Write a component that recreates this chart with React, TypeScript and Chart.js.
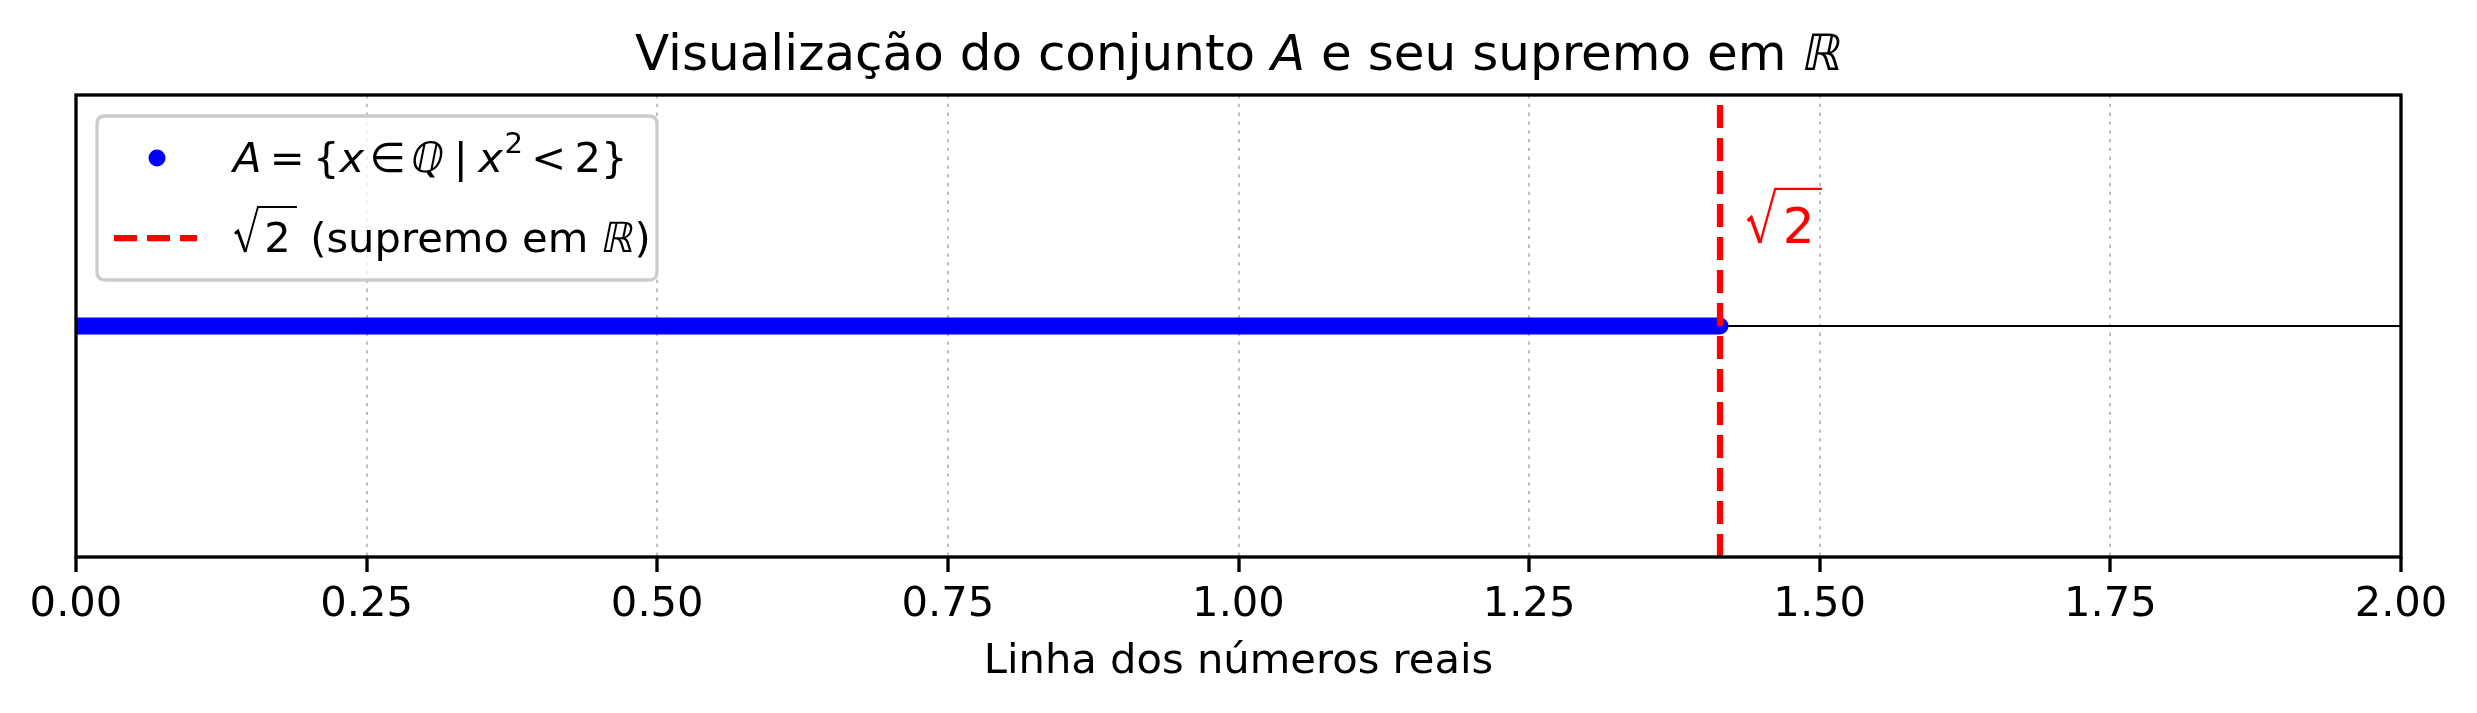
import React, { useEffect, useRef } from "react";
import { Chart, registerables } from "chart.js";

Chart.register(...registerables);

// ---- data ----
const X_MIN = 0;
const X_MAX = 2;
const Y_MIN = -1;
const Y_MAX = 1;
const X_TICKS = [0, 0.25, 0.5, 0.75, 1.0, 1.25, 1.5, 1.75, 2.0];
const X_TICK_LABELS = ["0.00", "0.25", "0.50", "0.75", "1.00", "1.25", "1.50", "1.75", "2.00"];
const SQRT2 = 1.41421356;
// set A drawn along the number line: from 0 up to sqrt(2)
const SET_A_X = [0, SQRT2];
const SET_A_Y = [0, 0];
// supremum vertical line
const SUP_X = [SQRT2, SQRT2];
const SUP_Y = [Y_MIN, Y_MAX];
// number line (horizontal axis line)
const AXIS_LINE_X = [X_MIN, X_MAX];
const AXIS_LINE_Y = [0, 0];
// annotation of sqrt(2)
const ANNOT_X = 1.438;
const ANNOT_Y = 0.36;

const TITLE_PARTS = ["Visualização do conjunto ", "A", " e seu supremo em ", "ℝ"];
const X_LABEL = "Linha dos números reais";
const LEGEND_TEXT_2 = [" (supremo em ", "ℝ", ")"];

const FONT = "'DejaVu Sans'";
const BLUE = "#0000ff";
const RED = "#ff0000";

type Piece = { t: string; italic?: boolean; skew?: boolean; size?: number; dy?: number; gap?: number; gapAfter?: number };

function layoutPieces(ctx: CanvasRenderingContext2D, pieces: Piece[], x: number, baseline: number, size: number, draw: boolean) {
  let cx = x;
  for (const p of pieces) {
    cx += (p.gap || 0) * size;
    const s = (p.size || 1) * size;
    ctx.font = `${p.italic ? "italic " : ""}${s}px ${FONT}`;
    if (draw) {
      if (p.skew) {
        ctx.save();
        ctx.translate(cx, baseline - (p.dy || 0) * size);
        ctx.transform(1, 0, -0.2, 1, 0, 0);
        ctx.fillText(p.t, -0.05 * size, 0);
        ctx.restore();
      } else {
        ctx.fillText(p.t, cx, baseline - (p.dy || 0) * size);
      }
    }
    cx += ctx.measureText(p.t).width;
    cx += (p.gapAfter || 0) * size;
  }
  return cx;
}

function drawSqrt2(ctx: CanvasRenderingContext2D, x: number, b: number, s: number, color: string) {
  const tx = x + 0.55 * s;
  const ty = b - 1.08 * s;
  const dx = tx + 0.15 * s;
  ctx.font = `${s}px ${FONT}`;
  const w = ctx.measureText("2").width;
  const ex = dx + w + 0.15 * s;
  ctx.save();
  ctx.strokeStyle = color;
  ctx.fillStyle = color;
  ctx.lineJoin = "miter";
  ctx.lineCap = "butt";
  ctx.setLineDash([]);
  ctx.lineWidth = 0.07 * s;
  ctx.beginPath();
  ctx.moveTo(x, b - 0.44 * s);
  ctx.lineTo(x + 0.07 * s, b - 0.5 * s);
  ctx.lineTo(x + 0.25 * s, b);
  ctx.stroke();
  ctx.lineWidth = 0.045 * s;
  ctx.beginPath();
  ctx.moveTo(x + 0.25 * s, b);
  ctx.lineTo(tx, ty);
  ctx.lineTo(ex, ty);
  ctx.stroke();
  ctx.textBaseline = "alphabetic";
  ctx.textAlign = "left";
  ctx.fillText("2", dx, b);
  ctx.restore();
  return ex;
}

const decorPlugin = {
  id: "decor",
  afterDatasetsDraw(chart: any) {
    const { ctx, chartArea } = chart;
    const { left, top, right, bottom } = chartArea;
    const xs = chart.scales.x;
    const ys = chart.scales.y;
    ctx.save();

    // annotation sqrt(2)
    drawSqrt2(ctx, xs.getPixelForValue(ANNOT_X), ys.getPixelForValue(ANNOT_Y), 50, RED);

    // frame
    ctx.strokeStyle = "#000";
    ctx.lineWidth = 3.33;
    ctx.setLineDash([]);
    ctx.strokeRect(left, top, right - left, bottom - top);

    // title
    ctx.fillStyle = "#000";
    ctx.textBaseline = "alphabetic";
    ctx.textAlign = "left";
    const titlePieces: Piece[] = [
      { t: TITLE_PARTS[0] },
      { t: TITLE_PARTS[1], italic: true },
      { t: TITLE_PARTS[2] },
      { t: TITLE_PARTS[3], skew: true },
    ];
    const tw = layoutPieces(ctx, titlePieces, 0, 0, 50, false);
    layoutPieces(ctx, titlePieces, (left + right) / 2 - tw / 2, top - 25, 50, true);

    // legend box
    const lx = left + 21, ly = top + 21, lw = 560, lh = 164, r = 8;
    ctx.beginPath();
    ctx.moveTo(lx + r, ly);
    ctx.lineTo(lx + lw - r, ly);
    ctx.quadraticCurveTo(lx + lw, ly, lx + lw, ly + r);
    ctx.lineTo(lx + lw, ly + lh - r);
    ctx.quadraticCurveTo(lx + lw, ly + lh, lx + lw - r, ly + lh);
    ctx.lineTo(lx + r, ly + lh);
    ctx.quadraticCurveTo(lx, ly + lh, lx, ly + lh - r);
    ctx.lineTo(lx, ly + r);
    ctx.quadraticCurveTo(lx, ly, lx + r, ly);
    ctx.closePath();
    ctx.fillStyle = "rgba(255,255,255,0.8)";
    ctx.fill();
    ctx.strokeStyle = "#cccccc";
    ctx.lineWidth = 3.33;
    ctx.stroke();

    // legend handles
    ctx.fillStyle = BLUE;
    ctx.beginPath();
    ctx.arc(lx + 60, ly + 42, 8.5, 0, Math.PI * 2);
    ctx.fill();
    ctx.strokeStyle = RED;
    ctx.lineWidth = 6.25;
    ctx.setLineDash([23, 10]);
    ctx.beginPath();
    ctx.moveTo(lx + 17, ly + 122);
    ctx.lineTo(lx + 100, ly + 122);
    ctx.stroke();
    ctx.setLineDash([]);

    // legend texts
    const s = 41.67;
    ctx.fillStyle = "#000";
    const row1: Piece[] = [
      { t: "A", italic: true },
      { t: "=", gap: 0.2, gapAfter: 0.2 },
      { t: "{" },
      { t: "x", italic: true },
      { t: "∈", gap: 0.12, gapAfter: 0.12 },
      { t: "ℚ", skew: true },
      { t: "|", gap: 0.25, gapAfter: 0.25 },
      { t: "x", italic: true },
      { t: "2", size: 0.7, dy: 0.45, gap: 0.04 },
      { t: "<", gap: 0.2, gapAfter: 0.2 },
      { t: "2" },
      { t: "}" },
    ];
    layoutPieces(ctx, row1, lx + 136, ly + 56, s, true);
    const ex = drawSqrt2(ctx, lx + 138, ly + 136, s, "#000");
    ctx.fillStyle = "#000";
    layoutPieces(
      ctx,
      [{ t: LEGEND_TEXT_2[0] }, { t: LEGEND_TEXT_2[1], skew: true }, { t: LEGEND_TEXT_2[2] }],
      ex,
      ly + 136,
      s,
      true
    );

    ctx.restore();
  },
};

export default function App() {
  const ref = useRef<HTMLCanvasElement | null>(null);
  useEffect(() => {
    document.body.style.margin = "0";
    const canvas = ref.current!;
    const chart = new Chart(canvas, {
      type: "line",
      data: {
        datasets: [
          {
            label: "sup",
            data: SUP_X.map((x, i) => ({ x, y: SUP_Y[i] })),
            borderColor: RED,
            borderWidth: 6.25,
            borderDash: [23, 10],
            pointRadius: 0,
            clip: 0,
          } as any,
          {
            label: "A",
            data: SET_A_X.map((x, i) => ({ x, y: SET_A_Y[i] })),
            borderColor: BLUE,
            borderWidth: 17,
            borderCapStyle: "round",
            pointRadius: 0,
            clip: 0,
          } as any,
          {
            label: "line",
            data: AXIS_LINE_X.map((x, i) => ({ x, y: AXIS_LINE_Y[i] })),
            borderColor: "#000",
            borderWidth: 2.08,
            pointRadius: 0,
            clip: 0,
          } as any,
        ],
      },
      options: {
        responsive: false,
        animation: false,
        devicePixelRatio: 1,
        layout: { padding: { left: 76, right: 76, top: 95, bottom: 0 } },
        plugins: { legend: { display: false }, tooltip: { enabled: false }, title: { display: false } },
        scales: {
          x: {
            type: "linear",
            min: X_MIN,
            max: X_MAX,
            afterBuildTicks: (s: any) => {
              s.ticks = X_TICKS.map((v) => ({ value: v }));
            },
            afterFit: (s: any) => {
              s.height = 156;
            },
            ticks: {
              autoSkip: false,
              maxRotation: 0,
              padding: 8,
              color: "#000",
              font: { family: "DejaVu Sans", size: 41.67 },
              callback: (_v: any, i: number) => X_TICK_LABELS[i],
            },
            grid: {
              color: "rgba(176,176,176,0.85)",
              lineWidth: 2,
              drawTicks: true,
              tickLength: 15,
              tickWidth: 3.33,
              tickColor: "#000",
            },
            border: { display: false, dash: [3.3, 5.5] },
            title: {
              display: true,
              text: X_LABEL,
              color: "#000",
              font: { family: "DejaVu Sans", size: 41.67 },
              padding: { top: 0, bottom: 26 },
            },
          } as any,
          y: { type: "linear", min: Y_MIN, max: Y_MAX, display: false },
        },
      } as any,
      plugins: [decorPlugin],
    });
    return () => chart.destroy();
  }, []);
  return <canvas ref={ref} width={2477} height={713} style={{ display: "block", width: 2477, height: 713 }} />;
}
